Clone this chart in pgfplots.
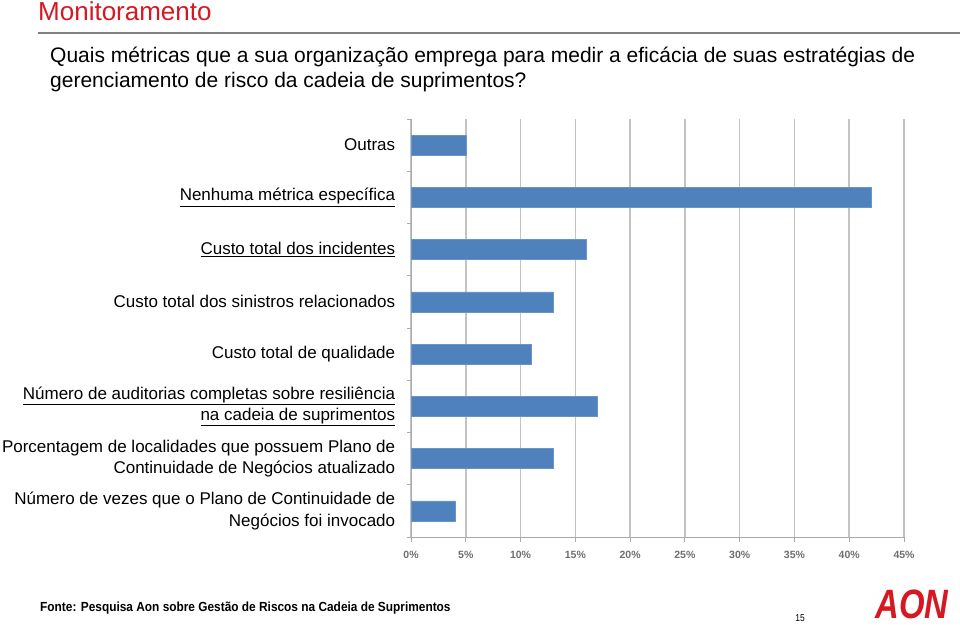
\documentclass[border=0pt]{standalone}
\usepackage{pgfplots}
\pgfplotsset{compat=1.18}
\usepackage{fontspec}
\setmainfont{Liberation Sans}
\usepackage{graphicx}
\definecolor{barblue}{RGB}{79,129,189}
\definecolor{aonred}{RGB}{213,24,33}
\definecolor{gridgray}{RGB}{195,195,195}
\definecolor{axgray}{RGB}{170,170,170}
\definecolor{tickgray}{RGB}{110,110,110}
\begin{document}
\begin{tikzpicture}
\useasboundingbox (0,0) rectangle (960pt,-625pt);
\node[anchor=base west, text=aonred, font=\fontsize{26}{30}\selectfont, inner sep=0] at (38pt,-20pt) {Monitoramento};
\draw[gray, line width=1.5pt] (38pt,-33pt) -- (960pt,-33pt);
\node[anchor=base west, font=\fontsize{21}{25}\selectfont, inner sep=0] at (50pt,-62pt) {Quais métricas que a sua organização emprega para medir a eficácia de suas estratégias de};
\node[anchor=base west, font=\fontsize{21}{25}\selectfont, inner sep=0] at (50pt,-87pt) {gerenciamento de risco da cadeia de suprimentos?};
\begin{axis}[
  at={(411pt,-537pt)}, anchor=south west,
  scale only axis, width=493pt, height=418pt,
  xmin=0, xmax=45, ymin=-0.5, ymax=7.5,
  xbar, bar width=20pt,
  axis lines*=left,
  axis line style={draw=axgray, line width=1pt},
  tick align=outside,
  xtick={0,5,...,45},
  xticklabels={0\%,5\%,10\%,15\%,20\%,25\%,30\%,35\%,40\%,45\%},
  xtick style={draw=axgray, line width=1pt, /pgfplots/major tick length=5pt},
  xmajorgrids, grid style={draw=gridgray, line width=1.5pt},
  xticklabel style={font=\bfseries\fontsize{10.5}{12}\selectfont, text=tickgray, yshift=-6pt},
  ytick={0,1,2,3,4,5,6,7},
  ytick style={draw=none, /pgfplots/major tick length=0pt},
  minor ytick={-0.5,0.5,...,7.5},
  minor y tick style={draw=axgray, line width=1pt, /pgfplots/minor tick length=4pt},
  yticklabels={
    {Número de vezes que o Plano de Continuidade de\\Negócios foi invocado},
    {Porcentagem de localidades que possuem Plano de\\Continuidade de Negócios atualizado},
    {\underline{Número de auditorias completas sobre resiliência}\\\underline{na cadeia de suprimentos}},
    {Custo total de qualidade},
    {Custo total dos sinistros relacionados},
    {\underline{Custo total dos incidentes}},
    {\underline{Nenhuma métrica específica}},
    {Outras}},
  yticklabel style={align=right, anchor=east, font=\fontsize{17}{21.5}\selectfont, xshift=-8pt},
]
\addplot[fill=barblue, draw=barblue!85!white] coordinates {
  (4,0) (13,1) (17,2) (11,3) (13,4) (16,5) (42,6) (5,7)};
\end{axis}
\node[anchor=base west, inner sep=0] at (40pt,-611pt) {\scalebox{0.9}[1]{\bfseries\fontsize{13.2}{15}\selectfont Fonte: Pesquisa Aon sobre Gestão de Riscos na Cadeia de Suprimentos}};
\node[inner sep=0] at (800pt,-618pt) {\scalebox{0.85}[1]{\fontsize{10}{12}\selectfont 15}};
\node[inner sep=0, text=aonred] at (912pt,-604pt) {\scalebox{0.8}[1]{\bfseries\itshape\fontsize{41}{41}\selectfont AON}};
\end{tikzpicture}
\end{document}
